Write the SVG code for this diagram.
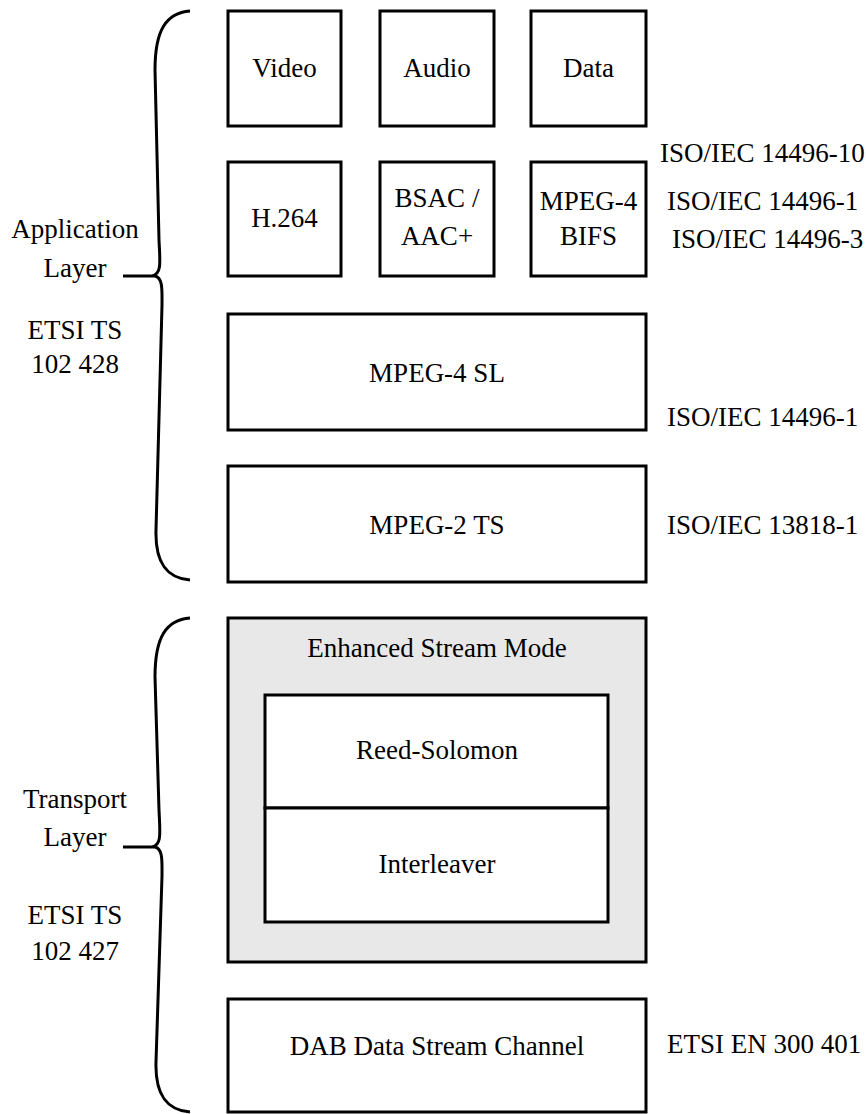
<svg xmlns="http://www.w3.org/2000/svg" width="866" height="1114" viewBox="0 0 866 1114">
<rect width="866" height="1114" fill="#fff"/>
<g id="braces" fill="none" stroke="#000" stroke-width="3">
<path d="M190,11 C166,13 155,30 155,70 L159,240 C160,262 162,274 152,276 M123,276 L155,276 C163,278 162,290 162,305 L156,530 C155,562 166,578 190,580"/>
<path d="M190,618 C166,620 155,637 155,677 L159,810 C160,833 162,845 152,847 M123,847 L155,847 C163,849 162,861 162,876 L156,1062 C155,1094 166,1110 190,1112"/>
</g>
<g id="labels-left">
<text font-family="Liberation Serif" font-size="27" text-anchor="middle" x="75" y="238">Application</text>
<text font-family="Liberation Serif" font-size="27" text-anchor="middle" x="75" y="277">Layer</text>
<text font-family="Liberation Serif" font-size="27" text-anchor="middle" x="75" y="339">ETSI TS</text>
<text font-family="Liberation Serif" font-size="27" text-anchor="middle" x="75" y="373">102 428</text>
<text font-family="Liberation Serif" font-size="27" text-anchor="middle" x="75" y="808">Transport</text>
<text font-family="Liberation Serif" font-size="27" text-anchor="middle" x="75" y="846">Layer</text>
<text font-family="Liberation Serif" font-size="27" text-anchor="middle" x="75" y="924">ETSI TS</text>
<text font-family="Liberation Serif" font-size="27" text-anchor="middle" x="75" y="960">102 427</text>
</g>
<g id="video"><rect x="228" y="11" width="113" height="115" fill="#fff" stroke="#000" stroke-width="3"/><text font-family="Liberation Serif" font-size="27" text-anchor="middle" x="284.5" y="77">Video</text></g>
<g id="audio"><rect x="380" y="11" width="114" height="115" fill="#fff" stroke="#000" stroke-width="3"/><text font-family="Liberation Serif" font-size="27" text-anchor="middle" x="437" y="77">Audio</text></g>
<g id="data"><rect x="531" y="11" width="115" height="115" fill="#fff" stroke="#000" stroke-width="3"/><text font-family="Liberation Serif" font-size="27" text-anchor="middle" x="588.5" y="77">Data</text></g>
<g id="h264"><rect x="228" y="162" width="113" height="114" fill="#fff" stroke="#000" stroke-width="3"/><text font-family="Liberation Serif" font-size="27" text-anchor="middle" x="284.5" y="227">H.264</text></g>
<g id="bsac"><rect x="380" y="162" width="114" height="114" fill="#fff" stroke="#000" stroke-width="3"/><text font-family="Liberation Serif" font-size="27" text-anchor="middle" x="437" y="207">BSAC /</text><text font-family="Liberation Serif" font-size="27" text-anchor="middle" x="437" y="245">AAC+</text></g>
<g id="bifs"><rect x="531" y="162" width="115" height="114" fill="#fff" stroke="#000" stroke-width="3"/><text font-family="Liberation Serif" font-size="27" text-anchor="middle" x="588.5" y="210">MPEG-4</text><text font-family="Liberation Serif" font-size="27" text-anchor="middle" x="588.5" y="245">BIFS</text></g>
<g id="mpeg4sl"><rect x="228" y="314" width="418" height="116" fill="#fff" stroke="#000" stroke-width="3"/><text font-family="Liberation Serif" font-size="27" text-anchor="middle" x="437" y="382">MPEG-4 SL</text></g>
<g id="mpeg2ts"><rect x="228" y="466" width="418" height="116" fill="#fff" stroke="#000" stroke-width="3"/><text font-family="Liberation Serif" font-size="27" text-anchor="middle" x="437" y="534">MPEG-2 TS</text></g>
<g id="esm"><rect x="228" y="618" width="418" height="344" fill="#e8e8e8" stroke="#000" stroke-width="3"/><text font-family="Liberation Serif" font-size="27" text-anchor="middle" x="437" y="657">Enhanced Stream Mode</text></g>
<g id="reedsolomon"><rect x="265" y="695" width="343" height="113" fill="#fff" stroke="#000" stroke-width="3"/><text font-family="Liberation Serif" font-size="27" text-anchor="middle" x="437" y="759">Reed-Solomon</text></g>
<g id="interleaver"><rect x="265" y="808" width="343" height="114" fill="#fff" stroke="#000" stroke-width="3"/><text font-family="Liberation Serif" font-size="27" text-anchor="middle" x="437" y="873">Interleaver</text></g>
<g id="dab"><rect x="228" y="999" width="418" height="113" fill="#fff" stroke="#000" stroke-width="3"/><text font-family="Liberation Serif" font-size="27" text-anchor="middle" x="437" y="1055">DAB Data Stream Channel</text></g>
<g id="labels-right">
<text font-family="Liberation Serif" font-size="27" x="660" y="162">ISO/IEC 14496-10</text>
<text font-family="Liberation Serif" font-size="27" x="667" y="210">ISO/IEC 14496-1</text>
<text font-family="Liberation Serif" font-size="27" x="672" y="248">ISO/IEC 14496-3</text>
<text font-family="Liberation Serif" font-size="27" x="667" y="426">ISO/IEC 14496-1</text>
<text font-family="Liberation Serif" font-size="27" x="667" y="534">ISO/IEC 13818-1</text>
<text font-family="Liberation Serif" font-size="27" x="667" y="1053">ETSI EN 300 401</text>
</g>
<g id="connectors"></g>
</svg>
